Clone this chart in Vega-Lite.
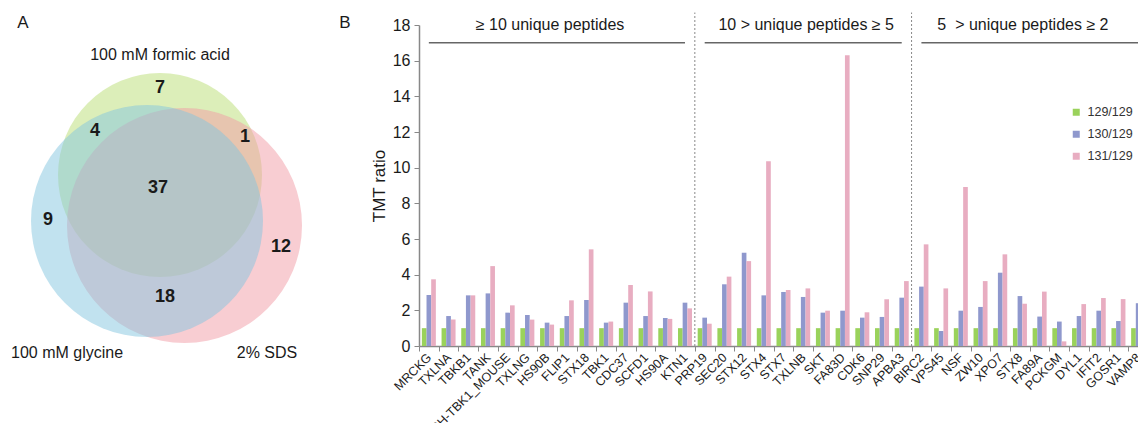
{
  "$schema": "https://vega.github.io/schema/vega-lite/v6.json",
  "padding": {"left": 0, "top": 12, "right": 0, "bottom": 0},
  "bounds": "flush",
  "spacing": 10,
  "config": {
    "font": "Liberation Sans",
    "view": {"stroke": null},
    "axis": {"grid": false, "labelOverlap": false},
    "axisY": {"labelOverlap": false, "values": [0, 2, 4, 6, 8, 10, 12, 14, 16, 18]}
  },
  "resolve": {
    "scale": {"x": "independent", "y": "independent", "color": "independent", "fill": "independent", "size": "independent"},
    "legend": {"color": "independent", "fill": "independent", "size": "independent"}
  },
  "datasets": {
    "sets": [
      {"set": "100 mM formic acid", "cx": 160, "cy": 175, "d": 204},
      {"set": "2% SDS", "cx": 184.5, "cy": 225.5, "d": 235},
      {"set": "100 mM glycine", "cx": 147, "cy": 221, "d": 232}
    ],
    "counts": [
      {"n": "7", "x": 160, "y": 88},
      {"n": "4", "x": 95, "y": 131},
      {"n": "1", "x": 245, "y": 137},
      {"n": "37", "x": 158, "y": 188},
      {"n": "9", "x": 48, "y": 220},
      {"n": "12", "x": 281, "y": 247},
      {"n": "18", "x": 165, "y": 297}
    ],
    "setnames": [
      {"t": "100 mM formic acid", "x": 160, "y": 55},
      {"t": "100 mM glycine", "x": 67, "y": 353},
      {"t": "2% SDS", "x": 267, "y": 353}
    ],
    "panels": [
      {"t": "A", "x": 23, "y": 23},
      {"t": "B", "x": 345, "y": 23}
    ],
    "ratios": [
      {"protein": "MRCKG", "129/129": 1, "130/129": 2.86, "131/129": 3.74},
      {"protein": "TXLNA", "129/129": 1, "130/129": 1.68, "131/129": 1.48},
      {"protein": "TBKB1", "129/129": 1, "130/129": 2.84, "131/129": 2.84},
      {"protein": "TANK", "129/129": 1, "130/129": 2.95, "131/129": 4.48},
      {"protein": "SH-TBK1_MOUSE", "129/129": 1, "130/129": 1.87, "131/129": 2.28},
      {"protein": "TXLNG", "129/129": 1, "130/129": 1.74, "131/129": 1.48},
      {"protein": "HS90B", "129/129": 1, "130/129": 1.31, "131/129": 1.2},
      {"protein": "FLIP1", "129/129": 1, "130/129": 1.68, "131/129": 2.56},
      {"protein": "STX18", "129/129": 1, "130/129": 2.58, "131/129": 5.42},
      {"protein": "TBK1", "129/129": 1, "130/129": 1.31, "131/129": 1.37},
      {"protein": "CDC37", "129/129": 1, "130/129": 2.43, "131/129": 3.42},
      {"protein": "SCFD1", "129/129": 1, "130/129": 1.68, "131/129": 3.06},
      {"protein": "HS90A", "129/129": 1, "130/129": 1.57, "131/129": 1.52},
      {"protein": "KTN1", "129/129": 1, "130/129": 2.43, "131/129": 2.11},
      {"protein": "PRP19", "129/129": 1, "130/129": 1.59, "131/129": 1.25},
      {"protein": "SEC20", "129/129": 1, "130/129": 3.46, "131/129": 3.89},
      {"protein": "STX12", "129/129": 1, "130/129": 5.23, "131/129": 4.76},
      {"protein": "STX4", "129/129": 1, "130/129": 2.84, "131/129": 10.36},
      {"protein": "STX7", "129/129": 1, "130/129": 3.03, "131/129": 3.14},
      {"protein": "TXLNB", "129/129": 1, "130/129": 2.75, "131/129": 3.23},
      {"protein": "SKT", "129/129": 1, "130/129": 1.87, "131/129": 1.98},
      {"protein": "FA83D", "129/129": 1, "130/129": 1.98, "131/129": 16.3},
      {"protein": "CDK6", "129/129": 1, "130/129": 1.59, "131/129": 1.89},
      {"protein": "SNP29", "129/129": 1, "130/129": 1.63, "131/129": 2.62},
      {"protein": "APBA3", "129/129": 1, "130/129": 2.71, "131/129": 3.64},
      {"protein": "BIRC2", "129/129": 1, "130/129": 3.33, "131/129": 5.7},
      {"protein": "VPS45", "129/129": 1, "130/129": 0.84, "131/129": 3.23},
      {"protein": "NSF", "129/129": 1, "130/129": 1.98, "131/129": 8.91},
      {"protein": "ZW10", "129/129": 1, "130/129": 2.19, "131/129": 3.64},
      {"protein": "XPO7", "129/129": 1, "130/129": 4.11, "131/129": 5.14},
      {"protein": "STX8", "129/129": 1, "130/129": 2.8, "131/129": 2.37},
      {"protein": "FA89A", "129/129": 1, "130/129": 1.65, "131/129": 3.05},
      {"protein": "PCKGM", "129/129": 1, "130/129": 1.37, "131/129": 0.26},
      {"protein": "DYL1", "129/129": 1, "130/129": 1.68, "131/129": 2.35},
      {"protein": "IFIT2", "129/129": 1, "130/129": 1.98, "131/129": 2.69},
      {"protein": "GOSR1", "129/129": 1, "130/129": 1.4, "131/129": 2.63},
      {"protein": "VAMP8", "129/129": 1, "130/129": 2.4, "131/129": 2.6}
    ],
    "groups": [
      {"label": "≥ 10 unique peptides", "first": "MRCKG", "last": "KTN1", "mid": "HS90B"},
      {"label": "10 > unique peptides ≥ 5", "first": "PRP19", "last": "APBA3", "mid": "TXLNB"},
      {"label": "5 \u00a0> unique peptides ≥ 2", "first": "BIRC2", "last": "VAMP8", "mid": "STX8"}
    ],
    "dividers": [{"cat": "PRP19"}, {"cat": "BIRC2"}]
  },
  "hconcat": [
    {
      "width": 409,
      "height": 398,
      "encoding": {
        "x": {"field": "x", "type": "quantitative", "scale": {"domain": [0, 409], "nice": false, "zero": false}, "axis": null},
        "y": {"field": "y", "type": "quantitative", "scale": {"domain": [25, 423], "nice": false, "zero": false, "reverse": true}, "axis": null}
      },
      "layer": [
        {
          "data": {"name": "sets"},
          "mark": {"type": "point", "shape": "circle", "filled": true, "opacity": 0.5, "strokeWidth": 0},
          "encoding": {
            "x": {"field": "cx", "type": "quantitative"},
            "y": {"field": "cy", "type": "quantitative"},
            "size": {"field": "d", "type": "quantitative", "scale": {"type": "pow", "exponent": 2, "domain": [0, 300], "range": [0, 90000]}, "legend": null},
            "fill": {"field": "set", "type": "nominal", "scale": {"domain": ["100 mM formic acid", "2% SDS", "100 mM glycine"], "range": ["#b9dd73", "#f19ba5", "#84c6df"]}, "legend": null}
          }
        },
        {
          "data": {"name": "counts"},
          "mark": {"type": "text", "fontSize": 18, "fontWeight": "bold", "color": "#1a1a1a", "baseline": "middle", "align": "center"},
          "encoding": {"text": {"field": "n"}}
        },
        {
          "data": {"name": "setnames"},
          "mark": {"type": "text", "fontSize": 16, "color": "#1a1a1a", "baseline": "middle", "align": "center"},
          "encoding": {"text": {"field": "t"}}
        },
        {
          "data": {"name": "panels"},
          "mark": {"type": "text", "fontSize": 17, "color": "#1a1a1a", "baseline": "middle", "align": "center"},
          "encoding": {"text": {"field": "t"}}
        }
      ]
    },
    {
      "width": 729,
      "height": 321,
      "layer": [
        {
          "data": {"name": "ratios"},
          "transform": [{"fold": ["129/129", "130/129", "131/129"], "as": ["ratio", "value"]}],
          "mark": {"type": "bar"},
          "encoding": {
            "x": {
              "field": "protein", "type": "nominal",
              "scale": {"domain": ["MRCKG", "TXLNA", "TBKB1", "TANK", "SH-TBK1_MOUSE", "TXLNG", "HS90B", "FLIP1", "STX18", "TBK1", "CDC37", "SCFD1", "HS90A", "KTN1", "PRP19", "SEC20", "STX12", "STX4", "STX7", "TXLNB", "SKT", "FA83D", "CDK6", "SNP29", "APBA3", "BIRC2", "VPS45", "NSF", "ZW10", "XPO7", "STX8", "FA89A", "PCKGM", "DYL1", "IFIT2", "GOSR1", "VAMP8"], "paddingInner": 0, "paddingOuter": 0},
              "axis": {"title": null, "labelAngle": -45, "labelAlign": "right", "labelBaseline": "middle", "labelFontSize": 12.5, "labelColor": "#1a1a1a", "labelPadding": 4, "labelOverlap": false, "tickBand": "extent", "tickSize": 5, "tickColor": "#888", "domainColor": "#888", "domainWidth": 1.5}
            },
            "xOffset": {"field": "ratio", "type": "nominal", "scale": {"domain": ["129/129", "130/129", "131/129"], "paddingInner": 0, "paddingOuter": 0.61}},
            "y": {
              "field": "value", "type": "quantitative",
              "scale": {"domain": [0, 18], "nice": false},
              "axis": {"title": "TMT ratio", "titleFontSize": 17, "titleFontWeight": "normal", "titleColor": "#1a1a1a", "values": [0, 2, 4, 6, 8, 10, 12, 14, 16, 18], "tickCount": 10, "labelOverlap": false, "labelFontSize": 16, "labelColor": "#1a1a1a", "tickColor": "#888", "tickSize": 5, "domainColor": "#888", "domainWidth": 1.5, "labelPadding": 4}
            },
            "color": {
              "field": "ratio", "type": "nominal",
              "scale": {"domain": ["129/129", "130/129", "131/129"], "range": ["#9ad25b", "#8f98cd", "#e8adc1"]},
              "legend": {"title": null, "orient": "none", "legendX": 651, "legendY": 81, "symbolType": "square", "symbolSize": 49, "symbolStrokeWidth": 0, "labelFontSize": 12.5, "labelColor": "#333", "rowPadding": 9, "labelOffset": 5, "padding": 0}
            }
          }
        },
        {
          "data": {"name": "dividers"},
          "mark": {"type": "rule", "color": "#888", "strokeWidth": 1, "strokeDash": [2, 2]},
          "encoding": {
            "x": {"field": "cat", "type": "nominal", "bandPosition": 0},
            "y": {"datum": 0, "type": "quantitative"},
            "y2": {"datum": 18.7}
          }
        },
        {
          "data": {"name": "groups"},
          "mark": {"type": "rule", "color": "#666", "strokeWidth": 1.5},
          "encoding": {
            "x": {"field": "first", "type": "nominal"},
            "x2": {"field": "last"},
            "y": {"datum": 17, "type": "quantitative"}
          }
        },
        {
          "data": {"name": "groups"},
          "mark": {"type": "text", "fontSize": 16, "color": "#1a1a1a", "align": "center", "baseline": "middle", "dx": 3},
          "encoding": {
            "x": {"field": "mid", "type": "nominal"},
            "y": {"datum": 18, "type": "quantitative"},
            "text": {"field": "label"}
          }
        }
      ]
    }
  ]
}
